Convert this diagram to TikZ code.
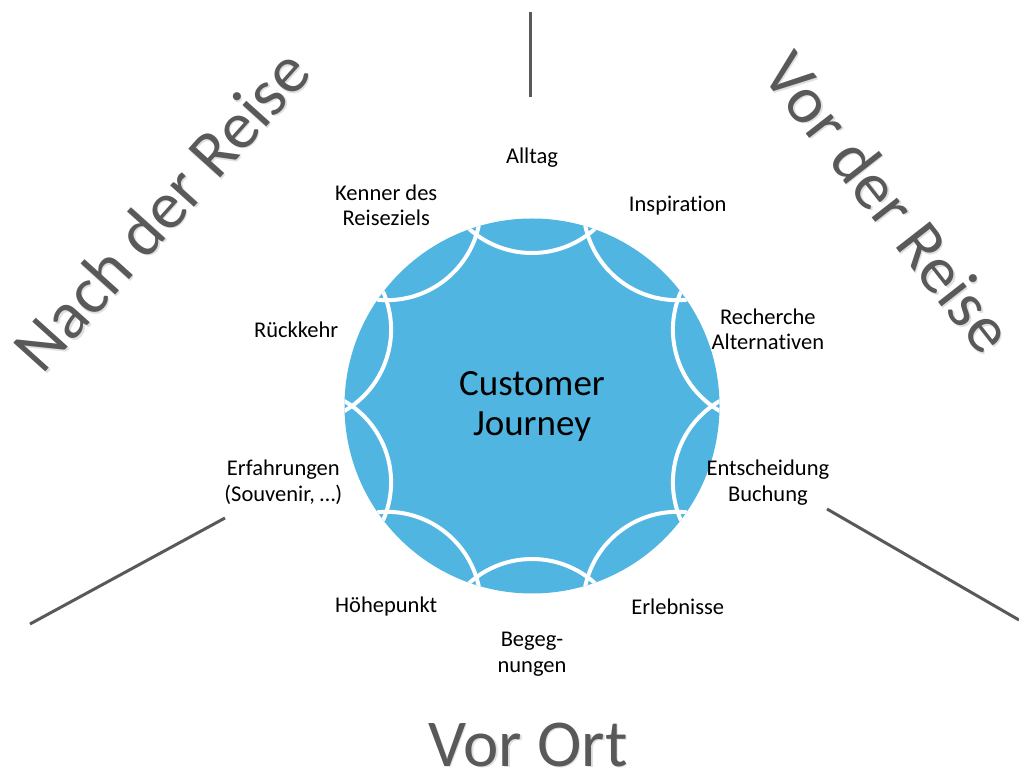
\documentclass[tikz,border=0pt]{standalone}
\usepackage{fontspec}
\setmainfont{Carlito}[Ligatures=NoCommon]
\definecolor{journeyblue}{RGB}{80,182,225}
\definecolor{phasegrey}{RGB}{89,89,89}

\begin{document}
\begin{tikzpicture}[x=1pt,y=1pt,
 stage/.style={align=center,font=\fontsize{22.5}{25.5}\selectfont,inner sep=0pt},
 phase/.style={text=phasegrey,font=\fontsize{67}{70}\selectfont,inner sep=0pt},
 phaseshadow/.style={phase,text=black!12},
 divider/.style={draw=phasegrey,line width=3pt},
 seam/.style={draw=white,line width=4pt}
]
\useasboundingbox (0,0) rectangle (1019,771);
% journey disc with ten scalloped segments
\fill[journeyblue] (532,365) circle[radius=187.5];
\begin{scope}[shift={(532,365)}]
\clip (0,0) circle[radius=187.5];
\foreach \a in {18,54,...,342}
  \draw[seam,rotate=\a] (247,0) ++(138:94) arc[start angle=138,end angle=222,radius=94];
\end{scope}
\node[font=\fontsize{37}{40}\selectfont,align=center,inner sep=0pt] (hub) at (532,365) {Customer\\Journey};
% stages around the disc
\begin{scope}[shift={(532,365)}]
\foreach \a/\r/\txt [count=\i] in {90/248/Alltag, 54/248/Inspiration, 18/248/{Recherche\\Alternativen},
  -18/248/{Entscheidung\\Buchung}, -54/248/Erlebnisse, -90/248/{Begeg-\\nungen}, -126/248/Höhepunkt,
  -163/260/{Erfahrungen\\(Souvenir, …)}, 162/248/Rückkehr, 126/248/{Kenner des\\Reiseziels}}
  \node[stage] (stage\i) at (\a:\r) {\txt};
\end{scope}
% phase dividers
\coordinate (top-a) at (530,759);
\coordinate (top-b) at (530,674);
\coordinate (left-a) at (225,253);
\coordinate (left-b) at (30,147);
\coordinate (right-a) at (827,262);
\coordinate (right-b) at (1019,151);
\draw[divider] (top-a) -- (top-b);
\draw[divider] (left-a) -- (left-b);
\draw[divider] (right-a) -- (right-b);
% phase titles
\node[phaseshadow,rotate=48] (after-sh) at (162.5,559.5) {Nach der Reise};
\node[phase,rotate=48] (after) at (161,561) {Nach der Reise};
\node[phaseshadow,rotate=-52] (before-sh) at (890.5,567.5) {Vor der Reise};
\node[phase,rotate=-52] (before) at (889,569) {Vor der Reise};
\node[phaseshadow,anchor=base] (onsite-sh) at (529.5,3.5) {Vor Ort};
\node[phase,anchor=base] (onsite) at (528,5) {Vor Ort};
\end{tikzpicture}
\end{document}
